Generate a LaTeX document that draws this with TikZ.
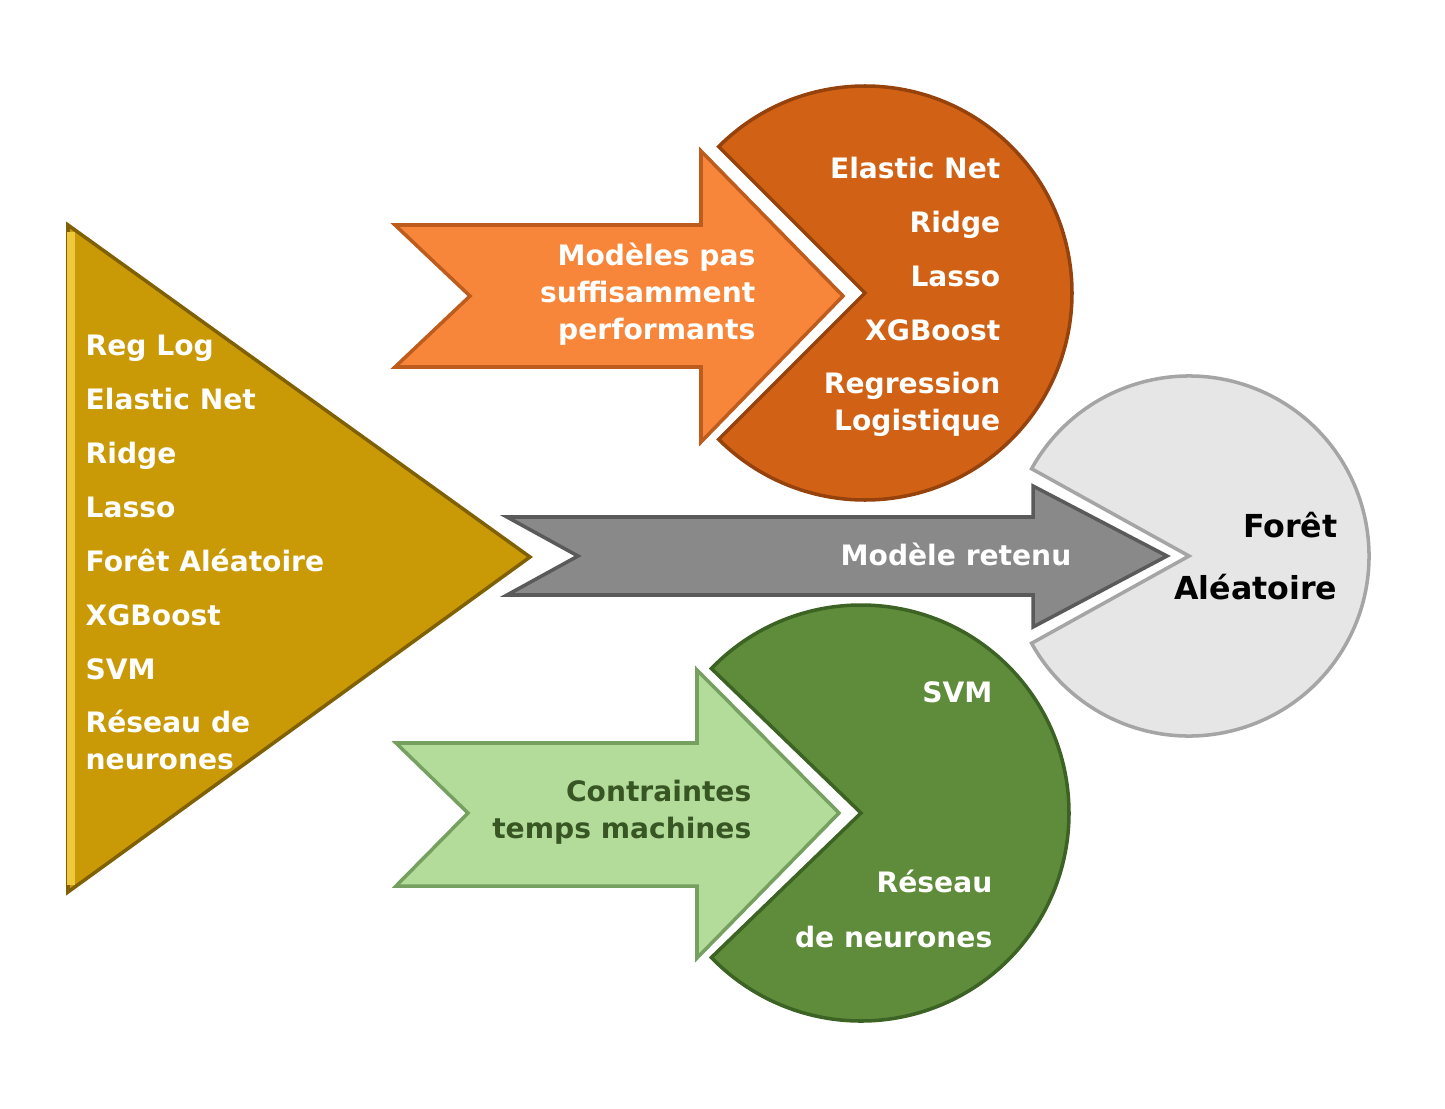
\documentclass[tikz,border=0pt]{standalone}
\usepackage{fontspec}
\setmainfont{DejaVu Sans}
\definecolor{goldfill}{RGB}{201,154,6}
\definecolor{golddark}{RGB}{128,96,4}
\definecolor{goldlight}{RGB}{240,200,60}
\definecolor{orangearrow}{RGB}{248,134,58}
\definecolor{orangeedge}{RGB}{190,92,30}
\definecolor{orangepie}{RGB}{209,97,21}
\definecolor{orangepieedge}{RGB}{150,66,12}
\definecolor{greyarrow}{RGB}{137,137,137}
\definecolor{greyedge}{RGB}{90,90,90}
\definecolor{greypie}{RGB}{230,230,230}
\definecolor{greypieedge}{RGB}{165,165,165}
\definecolor{greenarrow}{RGB}{179,220,154}
\definecolor{greenedge}{RGB}{118,160,96}
\definecolor{greenpie}{RGB}{94,140,58}
\definecolor{greenpieedge}{RGB}{60,98,36}
\definecolor{greentext}{RGB}{55,86,35}

\tikzset{
  label/.style={font=\bfseries\fontsize{8}{10.5}\selectfont, text=white, inner sep=0pt, text height=1.5ex, text depth=.25ex},
  multilabel/.style={font=\bfseries\fontsize{8}{10.5}\selectfont, text=white, inner sep=0pt},
  shapeline/.style={line width=1pt, line join=miter}
}

\begin{document}
\begin{tikzpicture}[x=0.01cm, y=0.01cm]
  \useasboundingbox (0,0) rectangle (1445,-1109);

  \filldraw[shapeline, fill=goldfill, draw=golddark] (68,-225) -- (530,-557) -- (68,-892) -- cycle;
  \draw[line width=2pt, goldlight] (71,-232) -- (71,-885);

  \filldraw[shapeline, fill=orangearrow, draw=orangeedge] (395,-225) -- (701,-225) -- (701,-151) -- (843,-296) -- (701,-442) -- (701,-367) -- (395,-367) -- (470,-296) -- cycle;
  \filldraw[shapeline, fill=greyarrow, draw=greyedge] (507,-517) -- (1033,-517) -- (1033,-486) -- (1167,-556) -- (1033,-627) -- (1033,-595) -- (507,-595) -- (578,-556) -- cycle;
  \filldraw[shapeline, fill=greenarrow, draw=greenedge] (396,-743) -- (697,-743) -- (697,-670) -- (839,-813) -- (697,-958) -- (697,-886) -- (396,-886) -- (468,-813) -- cycle;

  \filldraw[shapeline, fill=orangepie, draw=orangepieedge] (865,-293) -- ++(135:207) arc[start angle=135, end angle=-135, radius=207] -- cycle;
  \filldraw[shapeline, fill=greypie, draw=greypieedge] (1189,-556) -- ++(151:180) arc[start angle=151, end angle=-151, radius=180] -- cycle;
  \filldraw[shapeline, fill=greenpie, draw=greenpieedge] (861,-813) -- ++(136:208) arc[start angle=136, end angle=-136, radius=208] -- cycle;

  \foreach \txt [count=\i] in {Reg Log, Elastic Net, Ridge, Lasso, Forêt Aléatoire, XGBoost, SVM} {
    \node[label, anchor=west] (tri\i) at (85, {-289-54*\i}) {\txt};
  }
  \node[multilabel, anchor=west, align=left] (trinn) at (85,-740) {Réseau de\\neurones};

  \node[multilabel, anchor=east, align=right] (notgood) at (756,-294) {Modèles pas\\suffisamment\\performants};
  \foreach \txt [count=\i] in {Elastic Net, Ridge, Lasso, XGBoost} {
    \node[label, anchor=east] (orange\i) at (1001, {-112-54*\i}) {\txt};
  }
  \node[multilabel, anchor=east, align=right] (reglog) at (1001,-404) {Regression\\Logistique};

  \node[label, anchor=east] (kept) at (1072,-553) {Modèle retenu};
  \node[multilabel, anchor=east, align=right, text=black, font=\bfseries\fontsize{9}{17.4}\selectfont] (forest) at (1338,-556) {Forêt\\Aléatoire};

  \node[multilabel, anchor=east, align=right, text=greentext] (limits) at (752,-812) {Contraintes\\temps machines};
  \node[label, anchor=east] (svm) at (993,-690) {SVM};
  \node[multilabel, anchor=east, align=right, font=\bfseries\fontsize{8}{15.4}\selectfont] (nn) at (993,-909) {Réseau\\de neurones};
\end{tikzpicture}
\end{document}
